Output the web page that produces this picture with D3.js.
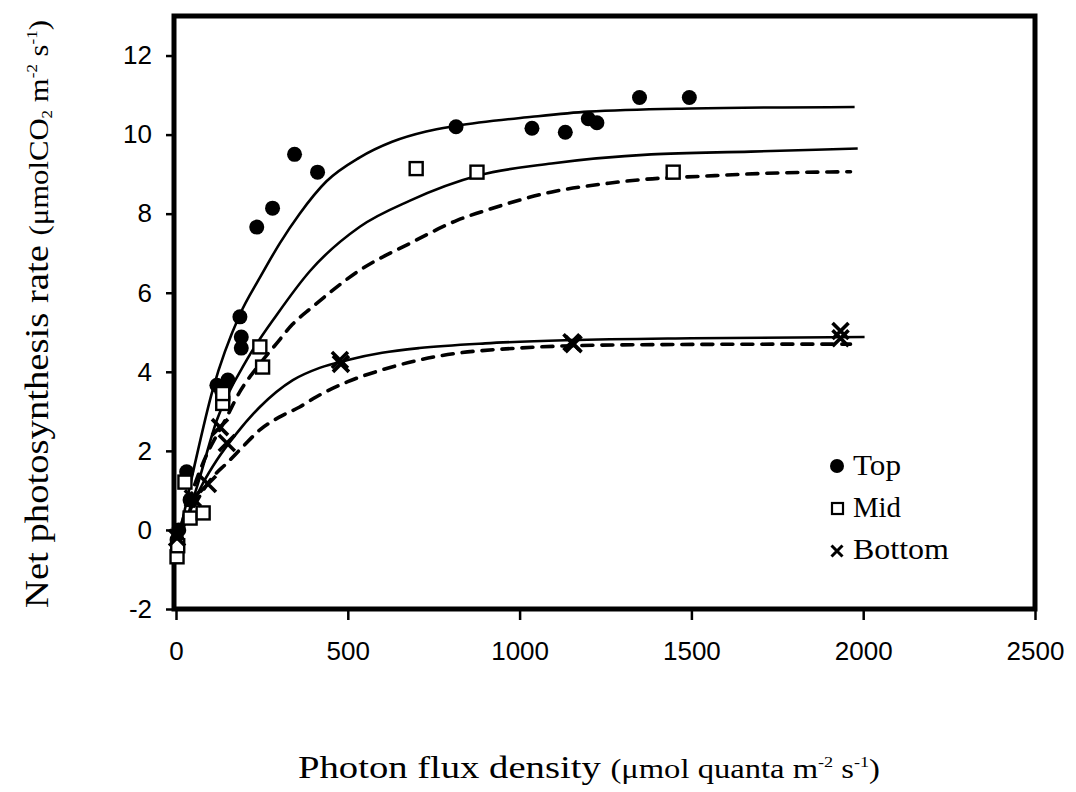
<!DOCTYPE html>
<html>
<head>
<meta charset="utf-8">
<script src="https://cdn.jsdelivr.net/npm/d3@7"></script>
<style>
  body { margin: 0; background: #fff; }
  svg { display: block; }
</style>
</head>
<body>
<div id="chart"></div>
<script>
// ---- data ----
const xTicks = [0, 500, 1000, 1500, 2000, 2500];
const yTicks = [-2, 0, 2, 4, 6, 8, 10, 12];

const topPts = [[3, -0.25], [8, 0.0], [31, 1.47], [41, 0.76], [119, 3.66], [133, 3.5], [151, 3.79],
  [186, 5.39], [190, 4.88], [190, 4.6], [235, 7.66], [281, 8.14], [345, 9.5], [412, 9.05],
  [815, 10.2], [1036, 10.16], [1133, 10.06], [1200, 10.4], [1225, 10.3], [1349, 10.94], [1494, 10.94]];
const midPts = [[3, -0.68], [5, -0.4], [26, 1.21], [41, 0.3], [79, 0.43], [136, 3.2], [136, 3.45],
  [244, 4.63], [252, 4.12], [699, 9.14], [876, 9.05], [1447, 9.05]];
const botPts = [[3, -0.2], [49, 0.8], [93, 1.16], [128, 2.6], [148, 2.2], [477, 4.3], [480, 4.2],
  [1151, 4.75], [1157, 4.7], [1934, 5.03], [1934, 4.85]];

// fitted curves (traced)
const topFit = [[0, -0.5], [49, 1.44], [107, 3.55], [186, 5.45], [244, 6.38], [302, 7.25], [360, 8.0],
  [438, 8.82], [534, 9.42], [629, 9.82], [728, 10.08], [815, 10.22], [1036, 10.45], [1200, 10.58],
  [1500, 10.66], [1975, 10.7]];
const midFit = [[0, -0.5], [61, 1.09], [119, 2.78], [206, 4.3], [294, 5.45], [390, 6.55], [535, 7.67],
  [681, 8.33], [882, 8.97], [1093, 9.27], [1383, 9.5], [1673, 9.57], [1984, 9.65]];
const midDash = [[0, -0.3], [79, 1.7], [148, 2.86], [186, 3.5], [235, 4.1], [293, 4.72], [339, 5.2],
  [397, 5.64], [535, 6.57], [681, 7.25], [818, 7.83], [919, 8.13], [1094, 8.55], [1259, 8.77],
  [1366, 8.87], [1540, 8.95], [1714, 9.02], [1963, 9.06]];
const botFit = [[0, -0.4], [79, 1.19], [119, 1.77], [177, 2.45], [244, 3.11], [340, 3.79], [418, 4.1],
  [500, 4.3], [600, 4.48], [708, 4.6], [900, 4.72], [1143, 4.8], [1500, 4.85], [2004, 4.88]];
const botDash = [[0, -0.3], [107, 1.34], [148, 1.69], [194, 2.1], [244, 2.53], [302, 2.86], [360, 3.11],
  [409, 3.37], [500, 3.75], [600, 4.05], [766, 4.4], [998, 4.6], [1288, 4.68], [1848, 4.7], [1963, 4.7]];

const legendItems = ["Top", "Mid", "Bottom"];

// ---- layout ----
const W = 1076, H = 792;
const svg = d3.select("#chart").append("svg").attr("width", W).attr("height", H);

const x = d3.scaleLinear().domain([0, 2500]).range([176, 1035]);
const y = d3.scaleLinear().domain([-2, 13]).range([609, 16]);

const line = d3.line().x(d => x(d[0])).y(d => y(d[1])).curve(d3.curveMonotoneX);

// frame
svg.append("rect")
  .attr("x", x(0) - 2).attr("y", y(13))
  .attr("width", x(2500) - x(0) + 2).attr("height", y(-2) - y(13))
  .attr("fill", "none").attr("stroke", "#000").attr("stroke-width", 5);

// axes
const yAxis = svg.append("g").attr("transform", `translate(${x(0) - 4},0)`)
  .call(d3.axisLeft(y).tickValues(yTicks).tickSize(6).tickPadding(14).tickFormat(d => String(d)));
const xAxis = svg.append("g").attr("transform", `translate(0,${y(-2) + 2})`)
  .call(d3.axisBottom(x).tickValues(xTicks).tickSize(9).tickPadding(22).tickFormat(d => String(d)));
[xAxis, yAxis].forEach(a => {
  a.select(".domain").remove();
  a.selectAll("line").attr("stroke", "#000").attr("stroke-width", 2.5);
  a.selectAll("text").attr("font-family", "Liberation Sans, Arial, sans-serif")
    .attr("font-size", 26).attr("fill", "#000");
});

// curves
const plot = svg.append("g");
plot.append("path").datum(topFit).attr("d", line).attr("fill", "none").attr("stroke", "#000").attr("stroke-width", 2.6);
plot.append("path").datum(midFit).attr("d", line).attr("fill", "none").attr("stroke", "#000").attr("stroke-width", 2.6);
plot.append("path").datum(botFit).attr("d", line).attr("fill", "none").attr("stroke", "#000").attr("stroke-width", 2.6);
plot.append("path").datum(midDash).attr("d", line).attr("fill", "none").attr("stroke", "#000")
  .attr("stroke-width", 3.6).attr("stroke-dasharray", "11,9").attr("stroke-linecap", "round");
plot.append("path").datum(botDash).attr("d", line).attr("fill", "none").attr("stroke", "#000")
  .attr("stroke-width", 3.6).attr("stroke-dasharray", "11,9").attr("stroke-linecap", "round");

// markers
plot.selectAll(".top").data(topPts).enter().append("circle").attr("class", "top")
  .attr("cx", d => x(d[0])).attr("cy", d => y(d[1])).attr("r", 7.5).attr("fill", "#000");

plot.selectAll(".mid").data(midPts).enter().append("rect").attr("class", "mid")
  .attr("x", d => x(d[0]) - 6.5).attr("y", d => y(d[1]) - 6.5)
  .attr("width", 13).attr("height", 13)
  .attr("fill", "#fff").attr("stroke", "#000").attr("stroke-width", 2.4);

const cross = s => `M${-s},${-s}L${s},${s}M${-s},${s}L${s},${-s}`;
plot.selectAll(".bot").data(botPts).enter().append("path").attr("class", "bot")
  .attr("transform", d => `translate(${x(d[0])},${y(d[1])})`)
  .attr("d", cross(8)).attr("stroke", "#000").attr("stroke-width", 3.6).attr("fill", "none");

// legend
const serif = "Liberation Serif, Times New Roman, serif";
const lg = svg.append("g").attr("font-family", serif).attr("font-size", 29);
legendItems.forEach((name, i) => {
  const cy = 466 + i * 42;
  if (i === 0) lg.append("circle").attr("cx", 837).attr("cy", cy).attr("r", 7).attr("fill", "#000");
  if (i === 1) lg.append("rect").attr("x", 832).attr("y", cy - 5).attr("width", 11).attr("height", 11)
    .attr("fill", "#fff").attr("stroke", "#000").attr("stroke-width", 2.2);
  if (i === 2) lg.append("path").attr("transform", `translate(837,${cy + 1})`).attr("d", cross(5.5))
    .attr("stroke", "#000").attr("stroke-width", 3).attr("fill", "none");
  lg.append("text").attr("x", 853).attr("y", cy + 9)
    .attr("textLength", name.length * 16).attr("lengthAdjust", "spacingAndGlyphs").text(name);
});

// axis titles
const xt = svg.append("text").attr("x", 589).attr("y", 778).attr("text-anchor", "middle")
  .attr("font-family", serif).attr("font-size", 32)
  .attr("textLength", 582).attr("lengthAdjust", "spacingAndGlyphs");
xt.append("tspan").text("Photon flux density  ");
xt.append("tspan").attr("font-size", 27).text("(μmol quanta m");
xt.append("tspan").attr("font-size", 15).attr("dy", -11).text("-2");
xt.append("tspan").attr("font-size", 27).attr("dy", 11).text(" s");
xt.append("tspan").attr("font-size", 15).attr("dy", -11).text("-1");
xt.append("tspan").attr("font-size", 27).attr("dy", 11).text(")");

const yt = svg.append("text").attr("transform", "translate(48,314) rotate(-90)").attr("text-anchor", "middle")
  .attr("font-family", serif).attr("font-size", 34)
  .attr("textLength", 588).attr("lengthAdjust", "spacingAndGlyphs");
yt.append("tspan").text("Net photosynthesis rate  ");
yt.append("tspan").attr("font-size", 27).text("(μmolCO");
yt.append("tspan").attr("font-size", 15).attr("dy", 4).text("2");
yt.append("tspan").attr("font-size", 27).attr("dy", -4).text(" m");
yt.append("tspan").attr("font-size", 15).attr("dy", -11).text("-2");
yt.append("tspan").attr("font-size", 27).attr("dy", 11).text(" s");
yt.append("tspan").attr("font-size", 15).attr("dy", -11).text("-1");
yt.append("tspan").attr("font-size", 27).attr("dy", 11).text(")");
</script>
</body>
</html>
